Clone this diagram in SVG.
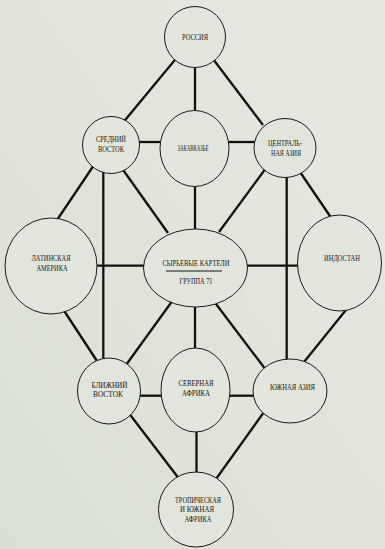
<svg xmlns="http://www.w3.org/2000/svg" width="385" height="549" viewBox="0 0 385 549">
<defs>
<linearGradient id="bg" x1="1" y1="0" x2="0" y2="1">
<stop offset="0" stop-color="#e7e9e0"/>
<stop offset="1" stop-color="#dadfd3"/>
</linearGradient>
<style>
.c{stroke:#111;stroke-width:2.3;stroke-linecap:butt;fill:none}
.n{fill:#e2e5db;stroke:#1a1a1a;stroke-width:1}
.t{font-family:"Liberation Serif","DejaVu Serif",serif;font-size:8px;fill:#151515;text-anchor:middle}
</style>
</defs>
<rect width="385" height="549" fill="url(#bg)"/>
<g id="connectors">
<line class="c" x1="179" y1="55" x2="121" y2="125"/>
<line class="c" x1="195" y1="64" x2="195" y2="112"/>
<line class="c" x1="210" y1="55" x2="263" y2="125"/>
<line class="c" x1="137" y1="142" x2="162" y2="142"/>
<line class="c" x1="228" y1="142" x2="256" y2="142"/>
<line class="c" x1="94" y1="165" x2="55" y2="223"/>
<line class="c" x1="103.3" y1="168" x2="103.3" y2="362"/>
<line class="c" x1="121" y1="167" x2="168" y2="233"/>
<line class="c" x1="195" y1="185" x2="195" y2="231"/>
<line class="c" x1="266" y1="168" x2="219" y2="232"/>
<line class="c" x1="298" y1="169" x2="334" y2="222"/>
<line class="c" x1="286.7" y1="172" x2="286.7" y2="362"/>
<line class="c" x1="95" y1="265.7" x2="146" y2="265.7"/>
<line class="c" x1="245" y1="265.7" x2="300" y2="265.7"/>
<line class="c" x1="57" y1="300" x2="97" y2="361"/>
<line class="c" x1="354" y1="300" x2="304" y2="362"/>
<line class="c" x1="173" y1="300" x2="126" y2="365"/>
<line class="c" x1="195" y1="300" x2="195" y2="350"/>
<line class="c" x1="213" y1="300" x2="266" y2="370"/>
<line class="c" x1="138" y1="395.7" x2="164" y2="395.7"/>
<line class="c" x1="228" y1="395.7" x2="256" y2="395.7"/>
<line class="c" x1="128" y1="412" x2="180" y2="480"/>
<line class="c" x1="196.5" y1="428" x2="196.5" y2="474"/>
<line class="c" x1="264" y1="412" x2="216" y2="479"/>
</g>
<g id="russia">
<circle class="n" cx="195" cy="37" r="30.5"/>
<text class="t" x="195" y="40" textLength="26" lengthAdjust="spacingAndGlyphs">РОССИЯ</text>
</g>
<g id="middle-east">
<circle class="n" cx="111" cy="145" r="28.5"/>
<text class="t" x="111" y="142" textLength="30" lengthAdjust="spacingAndGlyphs">СРЕДНИЙ</text>
<text class="t" x="111" y="152" textLength="26" lengthAdjust="spacingAndGlyphs">ВОСТОК</text>
</g>
<g id="transcaucasia">
<ellipse class="n" cx="194.5" cy="148.5" rx="34.5" ry="38"/>
<text class="t" x="193" y="151" textLength="31" lengthAdjust="spacingAndGlyphs">ЗАКАВКАЗЬЕ</text>
</g>
<g id="central-asia">
<ellipse class="n" cx="285" cy="148" rx="31" ry="29.5"/>
<text class="t" x="285" y="146" textLength="34" lengthAdjust="spacingAndGlyphs">ЦЕНТРАЛЬ-</text>
<text class="t" x="286" y="156" textLength="30" lengthAdjust="spacingAndGlyphs">НАЯ АЗИЯ</text>
</g>
<g id="latin-america">
<ellipse class="n" cx="51" cy="266" rx="46" ry="48"/>
<text class="t" x="51" y="260.5" textLength="39" lengthAdjust="spacingAndGlyphs">ЛАТИНСКАЯ</text>
<text class="t" x="52" y="270.5" textLength="31" lengthAdjust="spacingAndGlyphs">АМЕРИКА</text>
</g>
<g id="cartels">
<ellipse class="n" cx="195.5" cy="268" rx="52" ry="39"/>
<text class="t" x="196" y="266" textLength="67" lengthAdjust="spacingAndGlyphs">СЫРЬЕВЫЕ КАРТЕЛИ</text>
<line x1="166" y1="271" x2="222" y2="271" stroke="#151515" stroke-width="1"/>
<text class="t" x="196" y="284" textLength="33" lengthAdjust="spacingAndGlyphs">ГРУППА 71</text>
</g>
<g id="hindustan">
<ellipse class="n" cx="339.5" cy="263" rx="42" ry="48"/>
<text class="t" x="342" y="261" textLength="36" lengthAdjust="spacingAndGlyphs">ИНДОСТАН</text>
</g>
<g id="near-east">
<ellipse class="n" cx="109" cy="391" rx="31.5" ry="33"/>
<text class="t" x="109.5" y="388" textLength="36" lengthAdjust="spacingAndGlyphs">БЛИЖНИЙ</text>
<text class="t" x="108" y="397" textLength="30" lengthAdjust="spacingAndGlyphs">ВОСТОК</text>
</g>
<g id="north-africa">
<ellipse class="n" cx="195.5" cy="390" rx="34.5" ry="42"/>
<text class="t" x="196" y="386" textLength="35" lengthAdjust="spacingAndGlyphs">СЕВЕРНАЯ</text>
<text class="t" x="196" y="396" textLength="28" lengthAdjust="spacingAndGlyphs">АФРИКА</text>
</g>
<g id="south-asia">
<ellipse class="n" cx="290" cy="391" rx="37" ry="32"/>
<text class="t" x="292.5" y="390" textLength="45" lengthAdjust="spacingAndGlyphs">ЮЖНАЯ АЗИЯ</text>
</g>
<g id="tropical-africa">
<circle class="n" cx="196" cy="509.5" r="37.5"/>
<text class="t" x="198" y="503" textLength="46" lengthAdjust="spacingAndGlyphs">ТРОПИЧЕСКАЯ</text>
<text class="t" x="197" y="512" textLength="34" lengthAdjust="spacingAndGlyphs">И ЮЖНАЯ</text>
<text class="t" x="198" y="521.5" textLength="27" lengthAdjust="spacingAndGlyphs">АФРИКА</text>
</g>
</svg>
